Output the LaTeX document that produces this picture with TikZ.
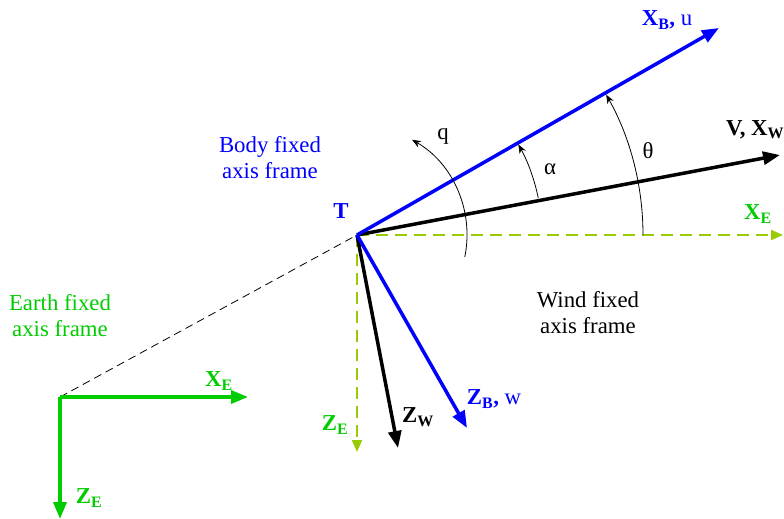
\documentclass[tikz,border=0pt]{standalone}
\usepackage{fontspec}
\setmainfont{Liberation Serif}
\usetikzlibrary{arrows.meta}
\definecolor{bodyblue}{RGB}{0,0,255}
\definecolor{earthgreen}{RGB}{0,204,0}
\definecolor{limegreen}{RGB}{153,204,0}

\begin{document}
\begin{tikzpicture}[x=1pt,y=1pt,
	axis/.style={line width=3.5pt,-{Triangle[length=17pt,width=13pt]}},
	refaxis/.style={line width=2pt,dash pattern=on 12pt off 7pt,-{Triangle[length=12pt,width=10pt]}},
	angarc/.style={line width=0.8pt,-{Stealth[length=9pt,width=7pt]}},
	lbl/.style={font=\fontsize{22.8}{26}\selectfont,inner sep=0pt,align=center}]
				\useasboundingbox (0,0) rectangle (784,-519);
				
				\coordinate (T) at (357,-235);
				\coordinate (O) at (60,-397);
				\coordinate (XBtip) at (719,-28);
				\coordinate (XWtip) at (780,-155);
				\coordinate (XEtip) at (783,-235);
				\coordinate (ZEtip) at (357,-452);
				\coordinate (ZWtip) at (398,-448);
				\coordinate (ZBtip) at (467,-428);
				\coordinate (OXtip) at (248,-397);
				\coordinate (OZtip) at (60,-519);
				
				\draw[line width=0.8pt,dash pattern=on 8pt off 5pt] (O) -- (T);
				\draw[refaxis,limegreen] (T) -- (XEtip);
				\draw[refaxis,limegreen] (T) -- (ZEtip);
				\draw[axis,black] (T) -- (XWtip);
				\draw[axis,black] (T) -- (ZWtip);
				\draw[axis,bodyblue] (T) -- (XBtip);
				\draw[axis,bodyblue] (T) -- (ZBtip);
				\draw[axis,earthgreen] (O) -- (OXtip);
				\draw[axis,earthgreen] (O) -- (OZtip);
				
				\draw[angarc] ([shift={(T)}]-11.5:110) arc (-11.5:60:110);
				\draw[angarc] ([shift={(T)}]11.6:185) arc (11.6:29.3:185);
				\draw[angarc] ([shift={(T)}]0:286) arc (0:29.4:286);
				
				\node[lbl,bodyblue] (xblbl) at (667,-20) {\textbf{X\textsubscript{B},} u};
				\node[lbl,anchor=west] (xwlbl) at (726,-130) {\textbf{V, X\textsubscript{W}}};
				\node[lbl,earthgreen] (xelbl) at (758,-214) {\textbf{X\textsubscript{E}}};
				\node[lbl] (thetalbl) at (648,-151) {θ};
				\node[lbl] (alphalbl) at (550,-169) {α};
				\node[lbl] (qlbl) at (443,-136) {q};
				\node[lbl,bodyblue] (tlbl) at (341,-211) {\textbf{T}};
				\node[lbl,bodyblue] (bodylbl) at (270,-158) {Body fixed\\axis frame};
				\node[lbl,earthgreen] (earthlbl) at (60,-316) {Earth fixed\\axis frame};
				\node[lbl] (windlbl) at (588,-313) {Wind fixed\\axis frame};
				\node[lbl,earthgreen] (oxlbl) at (219,-381) {\textbf{X\textsubscript{E}}};
				\node[lbl,earthgreen] (ozlbl) at (89,-498) {\textbf{Z\textsubscript{E}}};
				\node[lbl,earthgreen] (zelbl) at (335,-425) {\textbf{Z\textsubscript{E}}};
				\node[lbl] (zwlbl) at (418,-417) {\textbf{Z\textsubscript{W}}};
				\node[lbl,bodyblue] (zblbl) at (494,-399) {\textbf{Z\textsubscript{B},} w};
			\end{tikzpicture}
\end{document}
